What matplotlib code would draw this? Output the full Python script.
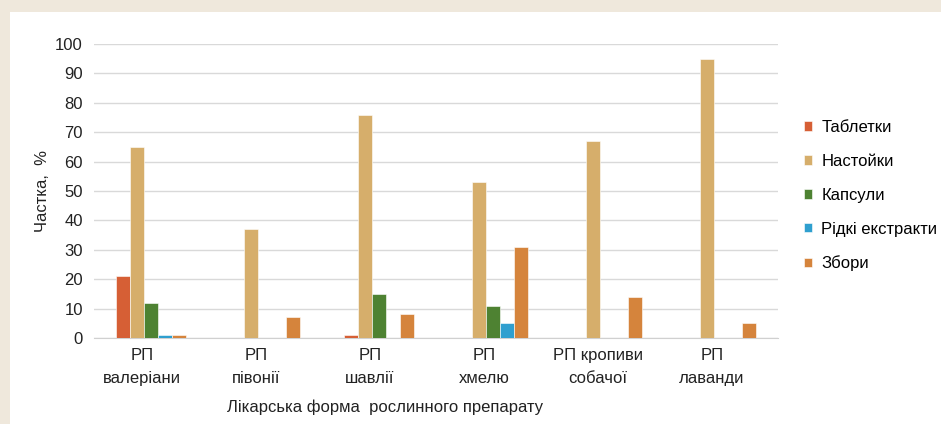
import matplotlib.pyplot as plt
import matplotlib.transforms as mtransforms
import numpy as np

plt.rcParams['font.family'] = ['Liberation Sans', 'DejaVu Sans']

categories = ['РП\nвалеріани', 'РП\nпівонії', 'РП\nшавлії', 'РП\nхмелю', 'РП кропиви\nсобачої', 'РП\nлаванди']
series = ['Таблетки', 'Настойки', 'Капсули', 'Рідкі екстракти', 'Збори']
tablets = [21, 0, 1, 0, 0, 0]
tinctures = [65, 37, 76, 53, 67, 95]
capsules = [12, 0, 15, 11, 0, 0]
extracts = [1, 0, 0, 5, 0, 0]
teas = [1, 7, 8, 31, 14, 5]
colors = ['#d65f35', '#d6ae6b', '#4e8232', '#2f9fcf', '#d5843c']

values = [tablets, tinctures, capsules, extracts, teas]

fig = plt.figure(figsize=(9.41, 4.24), dpi=100)
fig.patch.set_facecolor('#efe8dc')
# white inner panel
bg = fig.add_axes([10 / 941, 0, 1, 1 - 12 / 424], zorder=-1)
bg.set_facecolor('white')
bg.axis('off')
bg.add_patch(plt.Rectangle((0, 0), 1, 1, transform=bg.transAxes, facecolor='white', edgecolor='none'))

ax = fig.add_axes([94 / 941, 1 - 338 / 424, 684 / 941, 294 / 424], zorder=1)
ax.set_facecolor('none')

x = np.arange(len(categories))
w = 0.123
for i, (name, vals) in enumerate(zip(series, values)):
    ax.bar(x + (i - 2) * w, vals, w, color=colors[i], edgecolor='white', linewidth=0.4,
           label=name, zorder=3)

ax.set_xlim(-0.5, len(categories) - 0.5)
ax.set_ylim(0, 100)
ax.set_yticks(range(0, 101, 10))
ax.grid(axis='y', color='#d9d9d9', linewidth=1, zorder=0)
for s in ['top', 'right', 'left']:
    ax.spines[s].set_visible(False)
ax.spines['bottom'].set_color('#d0d0d0')
ax.tick_params(axis='both', length=0, labelsize=12, colors='#222222')
ax.tick_params(axis='y', pad=8)
ax.set_xticks(x)
ax.set_xticklabels(categories, linespacing=1.65)
ax.tick_params(axis='x', pad=7)
offset = mtransforms.ScaledTranslation(-9 / 100, 0, fig.dpi_scale_trans)
for lbl in ax.get_xticklabels():
    lbl.set_transform(lbl.get_transform() + offset)

ax.set_ylabel('Частка,  %', fontsize=12, color='#222222', labelpad=4)
fig.text(385 / 941, 1 - 407 / 424, 'Лікарська форма  рослинного препарату', fontsize=12,
         color='#222222', ha='center', va='center')

leg = ax.legend(loc='center left', bbox_to_anchor=(1.016, 0.484), frameon=False, fontsize=12,
                handlelength=0.5, handleheight=0.5, handletextpad=0.55, labelspacing=1.13)

plt.savefig('out.png', dpi=100, facecolor=fig.get_facecolor())
